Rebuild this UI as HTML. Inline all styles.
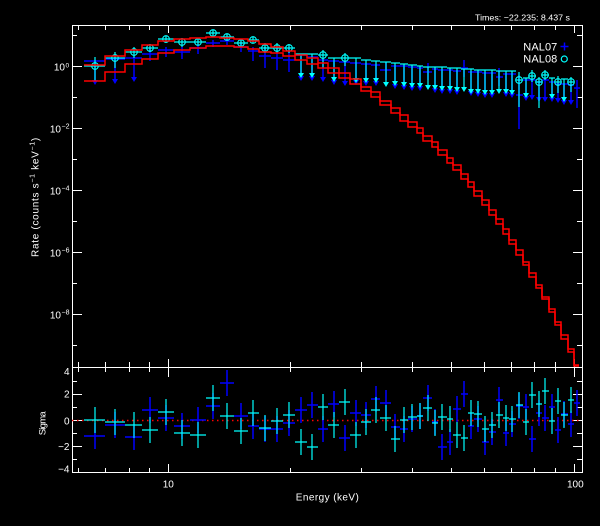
<!DOCTYPE html>
<html><head><meta charset="utf-8"><style>
html,body{margin:0;padding:0;background:#000;}
svg{display:block;}
text{font-family:"Liberation Sans",sans-serif;fill:#fff;}
</style></head><body>
<svg width="600" height="526" viewBox="0 0 600 526" xmlns="http://www.w3.org/2000/svg">
<rect x="0" y="0" width="600" height="526" fill="#000"/>

<!-- title -->
<text x="475" y="20.5" font-size="8.5" textLength="95" lengthAdjust="spacingAndGlyphs">Times: −22.235: 8.437 s</text>

<!-- frame -->
<g stroke="#fff" stroke-width="1" fill="none" shape-rendering="crispEdges">
<rect x="72.5" y="25.5" width="510" height="447"/>
<path d="M72 367.5H583"/>
<!-- top axis ticks -->
<path d="M78.5 25v5M105.5 25v5M129.5 25v5M149.5 25v5M168.5 25v8M290.5 25v5M361.5 25v5M412.5 25v5M451.5 25v5M484.5 25v5M511.5 25v5M534.5 25v5M555.5 25v5M574.5 25v8"/>
<!-- bottom of top panel ticks (up) -->
<path d="M78.5 367v-5M105.5 367v-5M129.5 367v-5M149.5 367v-5M168.5 367v-8M290.5 367v-5M361.5 367v-5M412.5 367v-5M451.5 367v-5M484.5 367v-5M511.5 367v-5M534.5 367v-5M555.5 367v-5M574.5 367v-8"/>
<!-- top of lower panel ticks (down) -->
<path d="M78.5 367v5M105.5 367v5M129.5 367v5M149.5 367v5M168.5 367v10M290.5 367v5M361.5 367v5M412.5 367v5M451.5 367v5M484.5 367v5M511.5 367v5M534.5 367v5M555.5 367v5M574.5 367v10"/>
<!-- bottom axis ticks -->
<path d="M78.5 472v-4M105.5 472v-4M129.5 472v-4M149.5 472v-4M168.5 472v-8M290.5 472v-4M361.5 472v-4M412.5 472v-4M451.5 472v-4M484.5 472v-4M511.5 472v-4M534.5 472v-4M555.5 472v-4M574.5 472v-8"/>
<!-- left ticks top panel -->
<path d="M72 66.5h10M72 128.5h10M72 190.5h10M72 252.5h10M72 314.5h10M72 35.5h5M72 97.5h5M72 159.5h5M72 221.5h5M72 283.5h5M72 345.5h5"/>
<path d="M583 66.5h-10M583 128.5h-10M583 190.5h-10M583 252.5h-10M583 314.5h-10M583 35.5h-6M583 97.5h-6M583 159.5h-6M583 221.5h-6M583 283.5h-6M583 345.5h-6"/>
<!-- lower panel y ticks -->
<path d="M72 394.5h10M72 420.5h10M72 446.5h10M72 381.5h5M72 407.5h5M72 433.5h5M72 459.5h5"/>
<path d="M583 394.5h-10M583 420.5h-10M583 446.5h-10M583 381.5h-6M583 407.5h-6M583 433.5h-6M583 459.5h-6"/>
</g>

<!-- y tick labels top -->
<g font-size="10">
<text x="65" y="70.7" text-anchor="end">10</text><text x="65.5" y="67.3" font-size="6.5">0</text>
<text x="61" y="132.7" text-anchor="end">10</text><text x="61.5" y="128.5" font-size="7">−2</text>
<text x="61" y="194.7" text-anchor="end">10</text><text x="61.5" y="190.5" font-size="7">−4</text>
<text x="61" y="256.7" text-anchor="end">10</text><text x="61.5" y="252.5" font-size="7">−6</text>
<text x="61" y="318.7" text-anchor="end">10</text><text x="61.5" y="314.5" font-size="7">−8</text>
<!-- lower y labels -->
<text x="69.5" y="375" text-anchor="end">4</text>
<text x="69.5" y="397.5" text-anchor="end">2</text>
<text x="69.5" y="424.3" text-anchor="end">0</text>
<text x="69.5" y="450.2" text-anchor="end">−2</text>
<text x="69.5" y="472.7" text-anchor="end">−4</text>
<!-- x labels -->
<text x="168.3" y="487.7" text-anchor="middle">10</text>
<text x="575.3" y="487.7" text-anchor="middle">100</text>
<text x="327.3" y="500.5" text-anchor="middle" textLength="63">Energy (keV)</text>
</g>
<text transform="translate(38.7,197) rotate(-90)" text-anchor="middle" font-size="10" letter-spacing="0.7">Rate (counts s<tspan dy="-4" font-size="7">−1</tspan><tspan dy="4"> keV</tspan><tspan dy="-4" font-size="7">−1</tspan><tspan dy="4">)</tspan></text>
<text transform="translate(45.5,423.3) rotate(-90)" text-anchor="middle" font-size="9.5" textLength="24">Sigma</text>

<!-- legend -->
<text x="523.3" y="50.7" font-size="11" textLength="34">NAL07</text>
<text x="523.3" y="62.7" font-size="11" textLength="34">NAL08</text>
<path d="M560.5 46.5h8M564.5 42.5v8" stroke="#0000ff" stroke-width="1.5"/>
<circle cx="564.3" cy="59" r="3" fill="none" stroke="#00ffff" stroke-width="1.2"/>

<!-- BLUE (NAL07) top panel -->
<g stroke="#0000ff" stroke-width="1.5" fill="none">
<path d="M84 61H105M95 61V81M105 59H125M115 59V80M125 58H142M134 58V78M142 54H158M150 48V61M158 50H174M166 47V57M174 52H190M182 47V59M190 48H206M198 44V54M206 43H220M213 40V47M220 41H234M227 38V45M234 47H248M241 42V52M248 51H259M253 47V61M259 56H271M265 47V68M271 58H283M277 47V70M283 60H295M289 48V72M295 55H307M301 55V77M307 57H318M312 57V77M318 60H328M323 60V78M328 61H339M334 61V81M339 62H350M345 62V82M350 63H361M356 63V81M361 64H371M366 64V82M371 65H380M376 65V82M380 70H391M386 62V80M391 66H400M395 66V85M400 66H408M404 66V86M408 67H417M412 67V87M417 68H423M420 68V87M423 72H432M428 63V80M432 69H438M435 69V89M438 70H447M442 70V90M447 70H453M450 70V90M453 71H461M457 71V91M461 68H468M464 60V77M468 72H474M471 72V92M474 72H482M478 72V93M482 73H489M485 73V94M489 73H496M492 73V94M496 77H503M499 68V86M503 74H509M506 74V93M509 74H516M512 74V94M516 95H523M519 75V129M523 80H529M526 80V97M529 80H536M532 80V96M536 82H542M539 82V98M542 80H549M545 80V98M549 82H555M552 82V98M555 84H561M558 84V99M561 84H568M564 84V101M568 85H574M571 85V101M574 88H580M577 80V108"/>
</g>
<path fill="#0000ff" d="M92 80h6l-3 5zM112 79h6l-3 5zM131 77h6l-3 5zM298 76h6l-3 5zM309 76h6l-3 5zM320 77h6l-3 5zM331 80h6l-3 5zM342 81h6l-3 5zM353 80h6l-3 5zM363 81h6l-3 5zM373 81h6l-3 5zM392 84h6l-3 5zM401 85h6l-3 5zM409 86h6l-3 5zM417 86h6l-3 5zM432 88h6l-3 5zM439 89h6l-3 5zM447 89h6l-3 5zM454 90h6l-3 5zM468 91h6l-3 5zM475 92h6l-3 5zM482 93h6l-3 5zM489 93h6l-3 5zM503 92h6l-3 5zM509 93h6l-3 5zM523 96h6l-3 5zM529 95h6l-3 5zM536 97h6l-3 5zM542 97h6l-3 5zM549 97h6l-3 5zM555 98h6l-3 5zM561 100h6l-3 5zM568 100h6l-3 5z"/>

<!-- CYAN (NAL08) top panel -->
<g stroke="#00ffff" stroke-width="1.2" fill="none">
<path d="M84 66H105M95 57V81M105 58H125M115 52V68M125 52H142M134 47V58M142 48H158M150 44V52M158 39H174M166 36V43M174 42H190M182 38V47M190 42H206M198 38V45M206 33H220M213 30V36M220 37H234M227 34V40M234 43H248M241 39V47M248 40H259M253 37V43M259 48H271M265 43V53M271 48H283M277 43V53M283 48H295M289 44V53M295 54H307M301 54V74M307 54H318M312 54V74M318 55H328M323 50V68M328 58H339M334 58V78M339 58H350M345 53V66M350 58H361M356 58V79M361 60H371M366 60V79M371 61H380M376 61V79M380 62H391M386 62V83M391 63H400M395 63V82M400 64H408M404 64V83M408 65H417M412 65V84M417 66H423M420 66V84M423 67H432M428 67V86M432 67H438M435 67V86M438 67H447M442 67V87M447 68H453M450 68V87M453 68H461M457 68V88M461 69H468M464 69V88M468 69H474M471 69V90M474 70H482M478 70V90M482 70H489M485 70V91M489 70H496M492 70V91M496 71H503M499 71V90M503 71H509M506 71V90M509 71H516M512 71V91M516 80H523M519 72V107M523 78H529M526 78V94M529 76H536M532 70V82M536 82H542M539 77V108M542 75H549M545 70V80M549 78H555M552 78V95M555 82H561M558 76V93M561 79H568M564 79V98M568 82H574M571 77V92"/>
<g stroke-width="1.1">
<circle cx="95" cy="66" r="3.3"/><circle cx="115" cy="58" r="3.3"/><circle cx="134" cy="52" r="3.3"/><circle cx="150" cy="48" r="3.3"/><circle cx="166" cy="39" r="3.3"/><circle cx="182" cy="42" r="3.3"/><circle cx="198" cy="42" r="3.3"/><circle cx="213" cy="33" r="3.3"/><circle cx="227" cy="37" r="3.3"/><circle cx="241" cy="43" r="3.3"/><circle cx="253" cy="40" r="3.3"/><circle cx="265" cy="48" r="3.3"/><circle cx="277" cy="48" r="3.3"/><circle cx="289" cy="48" r="3.3"/><circle cx="323" cy="55" r="3.3"/><circle cx="345" cy="58" r="3.3"/><circle cx="519" cy="80" r="3.3"/><circle cx="532" cy="76" r="3.3"/><circle cx="539" cy="82" r="3.3"/><circle cx="545" cy="75" r="3.3"/><circle cx="558" cy="82" r="3.3"/><circle cx="571" cy="82" r="3.3"/>
</g>
</g>
<path fill="#00ffff" d="M298 73h6l-3 5zM309 73h6l-3 5zM331 77h6l-3 5zM353 78h6l-3 5zM363 78h6l-3 5zM373 78h6l-3 5zM383 82h6l-3 5zM392 81h6l-3 5zM401 82h6l-3 5zM409 83h6l-3 5zM417 83h6l-3 5zM425 85h6l-3 5zM432 85h6l-3 5zM439 86h6l-3 5zM447 86h6l-3 5zM454 87h6l-3 5zM461 87h6l-3 5zM468 89h6l-3 5zM475 89h6l-3 5zM482 90h6l-3 5zM489 90h6l-3 5zM496 89h6l-3 5zM503 89h6l-3 5zM509 90h6l-3 5zM523 93h6l-3 5zM549 94h6l-3 5zM561 97h6l-3 5z"/>

<!-- RED model curves -->
<g stroke="#ff0000" stroke-width="1.5" fill="none">
<path d="M84 65H105V56H125V50H142V45H158V41H174V39H190V38H206V37H220V38H234V39H248V41H259V44H271V47H283V51H295V55H307V58H318V63H328V68H339V73H350V79H361V87H371V92H380V101H391V108H400V115H408V122H417V128H423V136H432V142H438V150H447V158H453V165H461V174H468V182H474V191H482V200H489V210H496V219H503V229H509V240H516V250H523V262H529V273H536V285H542V297H549V309H555V322H561V335H568V349H574V365H579"/>
<path d="M84 81H105V72H125V64H142V59H158V53H174V50H190V48H206V46H234V47H248V49H259V52H271V53H283V56H295V60H307V64H318V68H328V73H339V78H350V84H361V91H371V97H380V105H391V113H400V121H408V127H417V133H423V141H432V147H438V155H447V163H453V170H461V179H468V187H474V196H482V205H489V215H496V224H503V234H509V244H516V255H523V265H529V277H536V288H542V299H549V312H555V325H561V339H568V352H574V366H579"/>
</g>

<!-- LOWER PANEL: zero line -->
<path d="M72 420.5H582" stroke="#ff0000" stroke-width="1.5" stroke-dasharray="1.5 3.5" fill="none"/>

<!-- blue residuals -->
<path stroke="#0000ff" stroke-width="1.5" fill="none" d="M84 436H105M95 423V449M105 425H125M115 412V438M125 437H142M134 424V450M142 410H158M150 397V423M158 418H174M166 405V431M174 426H190M182 413V439M190 420H206M198 407V433M206 406H220M213 393V419M220 383H234M227 370V396M234 416H248M241 403V429M248 426H259M253 413V439M259 429H271M265 416V442M271 429H283M277 416V442M283 423H295M289 410V436M295 410H307M301 397V423M307 405H318M312 392V418M318 429H328M323 416V442M328 404H339M334 391V417M339 438H350M345 425V451M350 413H361M356 400V426M361 415H371M366 402V428M371 399H380M376 386V412M380 403H391M386 390V416M391 427H400M395 414V440M400 429H408M404 416V442M408 419H417M412 406V432M417 416H423M420 403V429M423 398H432M428 385V411M432 422H438M435 409V435M438 447H447M442 434V460M447 442H453M450 429V455M453 409H461M457 396V422M461 394H468M464 381V407M468 426H474M471 413V439M474 419H482M478 406V432M482 442H489M485 429V455M489 432H496M492 419V445M496 400H503M499 387V413M503 433H509M506 420V446M509 424H516M512 411V437M516 406H523M519 393V419M523 407H529M526 394V420M529 439H536M532 426V452M536 413H542M539 400V426M542 418H549M545 405V431M549 407H555M552 394V420M555 430H561M558 417V443M561 414H568M564 401V427M568 424H574M571 411V437M574 403H580M577 390V416"/>

<!-- cyan residuals -->
<path stroke="#00ffff" stroke-width="1.2" fill="none" d="M84 420H105M95 407V433M105 422H125M115 409V435M125 425H142M134 412V438M142 430H158M150 417V443M158 412H174M166 399V425M174 433H190M182 420V446M190 435H206M198 422V448M206 398H220M213 385V411M220 416H234M227 403V429M234 431H248M241 418V444M248 413H259M253 400V426M259 428H271M265 415V441M271 421H283M277 408V434M283 415H295M289 402V428M295 442H307M301 429V455M307 447H318M312 434V460M318 407H328M323 394V420M328 425H339M334 412V438M339 402H350M345 389V415M350 435H361M356 422V448M361 422H371M366 409V435M371 410H380M376 397V423M380 418H391M386 405V431M391 439H400M395 426V452M400 420H408M404 407V433M408 417H417M412 404V430M417 416H423M420 403V429M423 408H432M428 395V421M432 423H438M435 410V436M438 417H447M442 404V430M447 419H453M450 406V432M453 435H461M457 422V448M461 438H468M464 425V451M468 413H474M471 400V426M474 414H482M478 401V427M482 429H489M485 416V442M489 425H496M492 412V438M496 415H503M499 402V428M503 418H509M506 405V431M509 419H516M512 406V432M516 405H523M519 392V418M523 422H529M526 409V435M529 395H536M532 382V408M536 404H542M539 391V417M542 391H549M545 378V404M549 421H555M552 408V434M555 401H561M558 388V414M561 415H568M564 402V428M568 400H574M571 387V413"/>
</svg>
</body></html>
